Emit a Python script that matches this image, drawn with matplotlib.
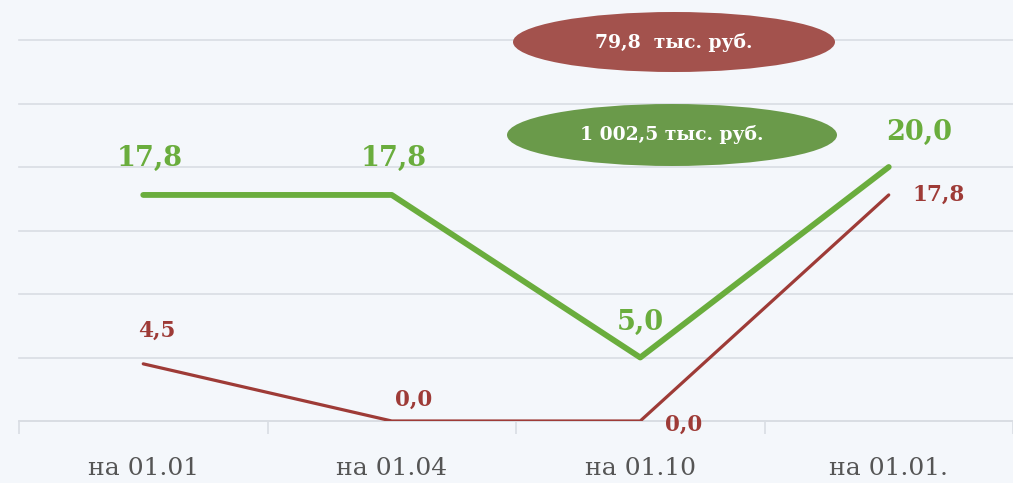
import matplotlib
matplotlib.use("Agg")
import matplotlib.pyplot as plt
from matplotlib.patches import Ellipse
from matplotlib.ticker import FixedLocator

categories = ["на 01.01", "на 01.04", "на 01.10", "на 01.01."]
green_values = [17.8, 17.8, 5.0, 20.0]
red_values = [4.5, 0.0, 0.0, 17.8]
green_labels = ["17,8", "17,8", "5,0", "20,0"]
red_labels = ["4,5", "0,0", "0,0", "17,8"]
red_total = "79,8  тыс. руб."
green_total = "1 002,5 тыс. руб."

BG = "#F4F7FB"
GREEN = "#6AAD3D"
RED = "#9E3B37"
GRID = "#D9DDE3"

fig = plt.figure(figsize=(10.13, 4.83), dpi=100, facecolor=BG)
ax = fig.add_axes([19 / 1013, 1 - 421 / 483, 1 - 19 / 1013, (421 - 40) / 483])
ax.set_facecolor(BG)

x = list(range(len(categories)))
ax.plot(x, green_values, color=GREEN, lw=4.2, solid_capstyle="round", zorder=3)
ax.plot(x, red_values, color=RED, lw=2.3, solid_capstyle="round", zorder=3)

ax.set_xlim(-0.5, len(categories) - 0.5)
ax.set_ylim(0, 30)
ax.set_yticks([0, 5, 10, 15, 20, 25, 30])
ax.yaxis.grid(True, color=GRID, lw=1.2, clip_on=False)
ax.tick_params(axis="y", left=False, labelleft=False)
ax.set_xticks(x)
ax.set_xticklabels(categories, family="DejaVu Serif", fontsize=18, color="#555555")
ax.tick_params(axis="x", length=0, pad=26)
ax.xaxis.set_minor_locator(FixedLocator([i - 0.5 for i in range(len(categories) + 1)]))
ax.tick_params(axis="x", which="minor", length=9, color=GRID, width=1.2)
for s in ["left", "right", "top"]:
    ax.spines[s].set_visible(False)
ax.spines["bottom"].set_color(GRID)
ax.spines["bottom"].set_linewidth(1.2)
ax.set_axisbelow(True)

g_off = [(7, 36), (2, 36), (0, 35), (30, 35)]
for xi, v, lab, off in zip(x, green_values, green_labels, g_off):
    ax.annotate(lab, (xi, v), xytext=off, textcoords="offset pixels",
                ha="center", va="center", family="DejaVu Serif", fontweight="bold",
                fontsize=19.5, color=GREEN, annotation_clip=False)

r_off = [(14, 33), (22, 21), (43, -4), (50, 0)]
for xi, v, lab, off in zip(x, red_values, red_labels, r_off):
    ax.annotate(lab, (xi, v), xytext=off, textcoords="offset pixels",
                ha="center", va="center", family="DejaVu Serif", fontweight="bold",
                fontsize=15.5, color=RED, annotation_clip=False)

e1 = Ellipse((674 / 1013, 1 - 42 / 483), 322 / 1013, 60 / 483,
             transform=fig.transFigure, facecolor="#A3524D", edgecolor="none", zorder=5)
e2 = Ellipse((672 / 1013, 1 - 135 / 483), 330 / 1013, 62 / 483,
             transform=fig.transFigure, facecolor="#6A9A4A", edgecolor="none", zorder=5)
fig.patches.extend([e1, e2])
fig.text(674 / 1013, 1 - 42 / 483, red_total, ha="center", va="center", color="white",
         family="DejaVu Serif", fontweight="bold", fontsize=13.5, zorder=6)
fig.text(672 / 1013, 1 - 135 / 483, green_total, ha="center", va="center", color="white",
         family="DejaVu Serif", fontweight="bold", fontsize=13.5, zorder=6)

fig.savefig("out.png", dpi=100, facecolor=BG)
